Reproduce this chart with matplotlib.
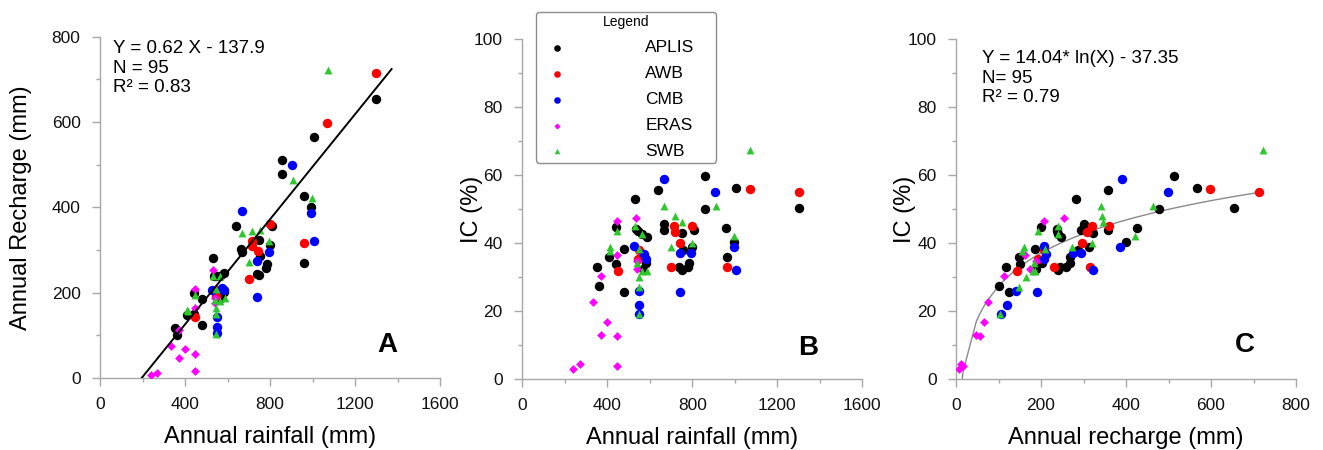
import numpy as np
import matplotlib.pyplot as plt
from matplotlib.ticker import MultipleLocator

plt.rcParams['font.family'] = ['Liberation Sans', 'DejaVu Sans']

# rainfall (mm), recharge (mm), IC (%) per method
aplis_rain = [1300, 1005, 858, 858, 960, 995, 962, 640, 532, 665, 669, 750, 810, 800, 755, 785,
              780, 738, 750, 441, 537, 564, 585, 480, 410, 443, 352, 360, 480, 570, 582, 546]
aplis_rech = [654, 566, 512, 477, 427, 400, 269, 357, 282, 302, 295, 323, 357, 312, 287, 268,
              258, 244, 241, 200, 238, 240, 247, 185, 148, 150, 118, 100, 124, 188, 202, 238]
aplis_ic = [50.3, 56.3, 59.7, 50.0, 44.5, 40.2, 35.8, 55.7, 53.0, 45.5, 43.8, 42.8, 43.8, 38.7, 37.9, 34.0,
            32.8, 33.0, 32.0, 44.8, 44.0, 42.6, 41.9, 38.1, 35.8, 33.8, 33.0, 27.5, 25.5, 32.5, 34.0, 43.6]

awb_rain = [1300, 1070, 962, 800, 713, 717, 742, 701, 548, 546, 449]
awb_rech = [714, 598, 316, 360, 321, 309, 297, 231, 207, 193, 143]
awb_ic = [54.9, 55.9, 32.8, 45.0, 45.0, 43.1, 40.0, 33.0, 37.8, 35.3, 31.8]

cmb_rain = [666, 905, 525, 575, 582, 550, 550, 550, 740, 740, 795, 995, 1005]
cmb_rech = [391, 499, 206, 212, 206, 142, 120, 105, 275, 190, 295, 387, 322]
cmb_ic = [58.7, 55.1, 39.2, 36.9, 35.4, 25.8, 21.8, 19.1, 37.2, 25.7, 37.1, 38.9, 32.0]

eras_rain = [240, 270, 332, 372, 372, 398, 446, 446, 446, 446, 534, 540, 540]
eras_rech = [7, 12, 75, 113, 48, 67, 56, 17, 163, 208, 253, 188, 175]
eras_ic = [2.9, 4.4, 22.6, 30.4, 12.9, 16.8, 12.6, 3.8, 36.5, 46.6, 47.4, 34.8, 32.4]

swb_rain = [1072, 666, 910, 717, 753, 532, 446, 564, 411, 414, 548, 702, 797, 997, 540, 564, 587, 548, 548, 548]
swb_rech = [723, 340, 464, 344, 347, 239, 194, 240, 159, 156, 209, 273, 320, 421, 184, 180, 187, 164, 149, 104]
swb_ic = [67.4, 51.0, 51.0, 48.0, 46.1, 45.0, 43.5, 42.6, 38.7, 37.7, 38.2, 38.9, 40.1, 42.2, 34.0, 31.9, 31.9, 29.9, 27.2, 19.0]

# linear fit line in panel A
fit_a_x = [196, 1372]
fit_a_y = [0, 724]
# log fit in panel C: Y = 14.04*ln(X) - 37.35
log_a, log_b = 14.04, -37.35

groups = [
    ("APLIS", aplis_rain, aplis_rech, aplis_ic, "black", "o", 46),
    ("AWB", awb_rain, awb_rech, awb_ic, "#ff0000", "o", 46),
    ("CMB", cmb_rain, cmb_rech, cmb_ic, "#0000ff", "o", 46),
    ("ERAS", eras_rain, eras_rech, eras_ic, "#ff00ff", "D", 20),
    ("SWB", swb_rain, swb_rech, swb_ic, "#2ec82e", "^", 32),
]

W, H = 1323, 450
fig = plt.figure(figsize=(W / 100, H / 100), dpi=100)
axA = fig.add_axes([100 / W, 72 / H, 340 / W, 341.3 / H])
axB = fig.add_axes([522.3 / W, 71 / H, 340 / W, 340 / H])
axC = fig.add_axes([956 / W, 71 / H, 340 / W, 340 / H])


def style(ax, xmaj, xmin, ymaj, ymin):
    for s in ["top", "right"]:
        ax.spines[s].set_visible(False)
    for s in ["left", "bottom"]:
        ax.spines[s].set_color("#a8a8a8")
        ax.spines[s].set_linewidth(1)
    ax.xaxis.set_major_locator(MultipleLocator(xmaj))
    ax.xaxis.set_minor_locator(MultipleLocator(xmin))
    ax.yaxis.set_major_locator(MultipleLocator(ymaj))
    ax.yaxis.set_minor_locator(MultipleLocator(ymin))
    ax.tick_params(which="major", direction="out", length=6, width=1, color="#a8a8a8",
                   labelsize=12.5, labelcolor="#111111", pad=8)
    ax.tick_params(which="minor", direction="out", length=3, width=1, color="#a8a8a8")


for name, rain, rech, ic, col, mk, sz in groups:
    axA.scatter(rain, rech, c=col, marker=mk, s=sz, linewidths=0, label=name, zorder=3)
    axB.scatter(rain, ic, c=col, marker=mk, s=sz, linewidths=0, label=name, zorder=3)
    axC.scatter(rech, ic, c=col, marker=mk, s=sz, linewidths=0, label=name, zorder=3)

# panel A
axA.plot(fit_a_x, fit_a_y, color="black", lw=1.4, zorder=4)
axA.set_xlim(0, 1600)
axA.set_ylim(0, 800)
style(axA, 400, 200, 200, 100)
axA.set_xlabel("Annual rainfall (mm)", fontsize=17)
axA.set_ylabel("Annual Recharge (mm)", fontsize=17)
axA.xaxis.set_label_coords(0.5, -0.14)
axA.yaxis.set_label_coords(-0.2, 0.5)
axA.text(0.038, 0.99, "Y = 0.62 X - 137.9\nN = 95\nR² = 0.83", transform=axA.transAxes,
         fontsize=13.5, va="top", ha="left", linespacing=1.2)
axA.text(0.845, 0.097, "A", transform=axA.transAxes, fontsize=20, fontweight="bold",
         ha="center", va="center")

# panel B
axB.set_xlim(0, 1600)
axB.set_ylim(0, 100)
style(axB, 400, 200, 20, 10)
axB.set_xlabel("Annual rainfall (mm)", fontsize=17)
axB.set_ylabel("IC (%)", fontsize=17)
axB.xaxis.set_label_coords(0.5, -0.14)
axB.yaxis.set_label_coords(-0.115, 0.5)
axB.text(0.842, 0.091, "B", transform=axB.transAxes, fontsize=20, fontweight="bold",
         ha="center", va="center")
leg = axB.legend(title="Legend", loc="upper left",
                 bbox_to_anchor=(536 / W, 1 - 163 / H, 180 / W, 151 / H),
                 bbox_transform=fig.transFigure, mode="expand", borderaxespad=0,
                 fontsize=12.5, title_fontsize=10, markerscale=0.7, handlelength=2.0,
                 handletextpad=4.1, labelspacing=0.62, borderpad=0.2, fancybox=True,
                 framealpha=1, edgecolor="#8c8c8c")
leg.get_frame().set_linewidth(1)

# panel C
fit_c_x = np.sort(np.concatenate([g[2] for g in groups]).astype(float))
fit_c_y = log_a * np.log(fit_c_x) + log_b
axC.plot(fit_c_x, fit_c_y, color="#8a8a8a", lw=1, zorder=2)
axC.set_xlim(0, 800)
axC.set_ylim(0, 100)
style(axC, 200, 100, 20, 10)
axC.set_xlabel("Annual recharge (mm)", fontsize=17)
axC.set_ylabel("IC (%)", fontsize=17)
axC.xaxis.set_label_coords(0.5, -0.14)
axC.yaxis.set_label_coords(-0.118, 0.5)
axC.text(0.076, 0.967, "Y = 14.04* ln(X) - 37.35\nN= 95\nR² = 0.79", transform=axC.transAxes,
         fontsize=13.5, va="top", ha="left", linespacing=1.2)
axC.text(0.85, 0.1, "C", transform=axC.transAxes, fontsize=20, fontweight="bold",
         ha="center", va="center")

fig.savefig("out.png", dpi=100)
